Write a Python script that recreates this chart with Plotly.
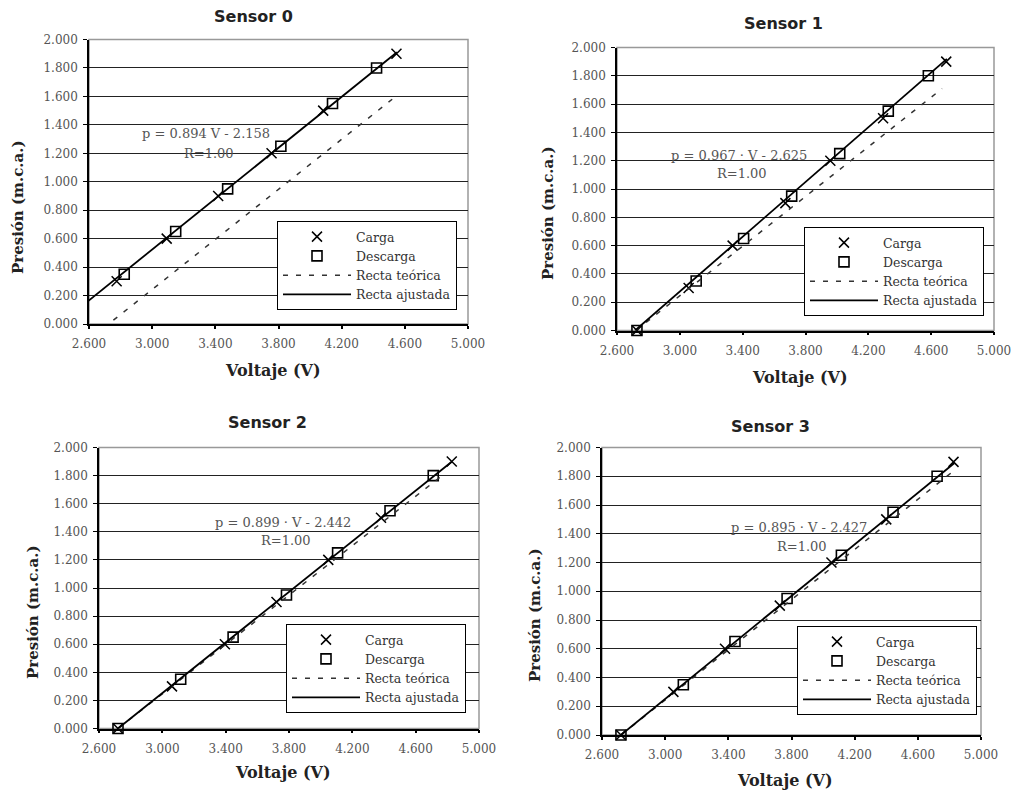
import plotly.graph_objects as go

W, H = 1013, 791

# ---------------- data ----------------
sensors = ["Sensor 0", "Sensor 1", "Sensor 2", "Sensor 3"]

carga_v = [
    [2.775, 3.092, 3.418, 3.756, 4.083, 4.547],
    [2.727, 3.056, 3.336, 3.672, 3.958, 4.294, 4.696],
    [2.720, 3.061, 3.395, 3.721, 4.048, 4.381, 4.828],
    [2.720, 3.052, 3.379, 3.726, 4.053, 4.400, 4.826],
]
carga_p = [
    [0.30, 0.60, 0.90, 1.20, 1.50, 1.90],
    [0.00, 0.30, 0.60, 0.90, 1.20, 1.50, 1.90],
    [0.00, 0.30, 0.60, 0.90, 1.20, 1.50, 1.90],
    [0.00, 0.30, 0.60, 0.90, 1.20, 1.50, 1.90],
]
descarga_v = [
    [2.823, 3.149, 3.478, 3.815, 4.142, 4.421],
    [2.727, 3.104, 3.406, 3.712, 4.018, 4.327, 4.582],
    [2.720, 3.116, 3.447, 3.784, 4.107, 4.438, 4.711],
    [2.720, 3.115, 3.442, 3.772, 4.116, 4.443, 4.722],
]
descarga_p = [
    [0.35, 0.65, 0.95, 1.25, 1.55, 1.80],
    [0.00, 0.35, 0.65, 0.95, 1.25, 1.55, 1.80],
    [0.00, 0.35, 0.65, 0.95, 1.25, 1.55, 1.80],
    [0.00, 0.35, 0.65, 0.95, 1.25, 1.55, 1.80],
]
teorica_v = [[2.69, 4.52], [2.72, 4.67], [2.72, 4.79], [2.72, 4.83]]
teorica_p = [[-0.03, 1.58], [0.00, 1.71], [0.00, 1.82], [0.00, 1.84]]
ajustada_v = [[2.56, 4.55], [2.715, 4.70], [2.72, 4.83], [2.72, 4.83]]
ajustada_p = [[0.13, 1.91], [0.00, 1.92], [0.00, 1.90], [0.00, 1.89]]

equations = [
    "p = 0.894 V - 2.158",
    "p = 0.967 · V - 2.625",
    "p = 0.899 · V - 2.442",
    "p = 0.895 · V - 2.427",
]
r_labels = ["R=1.00", "R=1.00", "R=1.00", "R=1.00"]
series_names = ["Carga", "Descarga", "Recta teórica", "Recta ajustada"]

x_ticks = [2.6, 3.0, 3.4, 3.8, 4.2, 4.6, 5.0]
y_ticks = [0.0, 0.2, 0.4, 0.6, 0.8, 1.0, 1.2, 1.4, 1.6, 1.8, 2.0]

# ---------------- layout geometry (pixels) ----------------
plot_px = [  # x0, x1, ytop, ybottom
    (89, 468, 39.5, 324),
    (617, 994, 47.5, 330.5),
    (99, 479, 447.5, 728.5),
    (602, 981, 447.5, 735),
]
legend_px = [(277, 221), (804, 227), (286, 624), (797, 626)]
title_px = [(253, 16), (783, 24), (267, 422), (770, 426)]
xtitle_px = [(273, 370), (800, 377), (283, 772), (785, 780)]
ytitle_px = [(18, 207), (548, 213), (33, 612), (535, 615)]
eq_px = [(206, 134), (739, 155), (283, 522), (799, 527)]
r_px = [(209, 153), (742, 173), (286, 540), (802, 546)]

SERIF = "DejaVu Serif"
fig = go.Figure()

def px2x(px):
    return px / W

def px2y(py):
    return 1 - py / H

def label(text, pos, font, angle=0):
    return dict(text=text, x=px2x(pos[0]), y=px2y(pos[1]), xref="paper", yref="paper",
                xanchor="center", yanchor="middle", showarrow=False,
                textangle=angle, font=font)

annotations = []
shapes = []
for i in range(4):
    ax = "" if i == 0 else str(i + 1)
    xref, yref = "x" + ax, "y" + ax
    leg = "legend" if i == 0 else "legend" + str(i + 1)

    fig.add_trace(go.Scatter(
        x=carga_v[i], y=carga_p[i], mode="markers", name=series_names[0],
        xaxis=xref, yaxis=yref, legend=leg, cliponaxis=False,
        marker=dict(symbol="x-thin-open", size=10, color="black",
                    line=dict(width=1.5, color="black"))))
    fig.add_trace(go.Scatter(
        x=descarga_v[i], y=descarga_p[i], mode="markers", name=series_names[1],
        xaxis=xref, yaxis=yref, legend=leg, cliponaxis=False,
        marker=dict(symbol="square-open", size=10, color="black",
                    line=dict(width=1.6, color="black"))))
    fig.add_trace(go.Scatter(
        x=teorica_v[i], y=teorica_p[i], mode="lines", name=series_names[2],
        xaxis=xref, yaxis=yref, legend=leg,
        line=dict(color="#333333", width=1.5, dash="5px,8px")))
    fig.add_trace(go.Scatter(
        x=ajustada_v[i], y=ajustada_p[i], mode="lines", name=series_names[3],
        xaxis=xref, yaxis=yref, legend=leg,
        line=dict(color="black", width=1.8)))

    x0, x1, yt, yb = plot_px[i]
    xa = dict(domain=[px2x(x0), px2x(x1)], range=[2.6, 5.0], anchor=yref,
              tickvals=x_ticks, tickformat=".3f", showgrid=False, zeroline=False,
              showline=True, linecolor="black", linewidth=1.5, automargin=False,
              ticks="outside", ticklen=3, tickcolor="black", tickwidth=1.5,
              ticklabelstandoff=5,
              tickfont=dict(family=SERIF, size=12, color="#555555"))
    ya = dict(domain=[px2y(yb), px2y(yt)], range=[0, 2.0], anchor=xref,
              tickvals=y_ticks, tickformat=".3f", showgrid=True,
              gridcolor="#222222", gridwidth=1.3, zeroline=False,
              showline=True, linecolor="black", linewidth=1.5, automargin=False,
              ticks="outside", ticklen=4, tickcolor="black", tickwidth=1.3,
              ticklabelstandoff=3,
              tickfont=dict(family=SERIF, size=12, color="#555555"))
    fig.update_layout(**{"xaxis" + ax: xa, "yaxis" + ax: ya})

    shapes.append(dict(type="rect", xref=xref + " domain", yref=yref + " domain",
                       x0=0, x1=1, y0=0, y1=1, layer="below",
                       line=dict(color="#999999", width=1.5)))

    lx, ly = legend_px[i]
    fig.update_layout(**{leg: dict(
        x=px2x(lx), y=px2y(ly), xanchor="left", yanchor="top",
        bgcolor="white", bordercolor="black", borderwidth=1,
        itemwidth=68, tracegroupgap=0,
        font=dict(family=SERIF, size=12.5, color="#333333"))})

    annotations.append(label("<b>" + sensors[i] + "</b>", title_px[i],
                             dict(family="DejaVu Sans", size=16, color="#222222")))
    annotations.append(label("<b>Voltaje (V)</b>", xtitle_px[i],
                             dict(family=SERIF, size=16, color="#222222")))
    annotations.append(label("<b>Presión (m.c.a.)</b>", ytitle_px[i],
                             dict(family=SERIF, size=15, color="#222222"), angle=-90))
    annotations.append(label(equations[i], eq_px[i],
                             dict(family=SERIF, size=13, color="#555555")))
    annotations.append(label(r_labels[i], r_px[i],
                             dict(family=SERIF, size=13, color="#555555")))

fig.update_layout(
    width=W, height=H, margin=dict(l=0, r=0, t=0, b=0, pad=0, autoexpand=False),
    paper_bgcolor="white", plot_bgcolor="white",
    annotations=annotations, shapes=shapes, showlegend=True,
)

fig.write_html("out.html", config={"displayModeBar": False},
               post_script="document.body.style.margin='0';document.body.style.overflow='hidden';")
